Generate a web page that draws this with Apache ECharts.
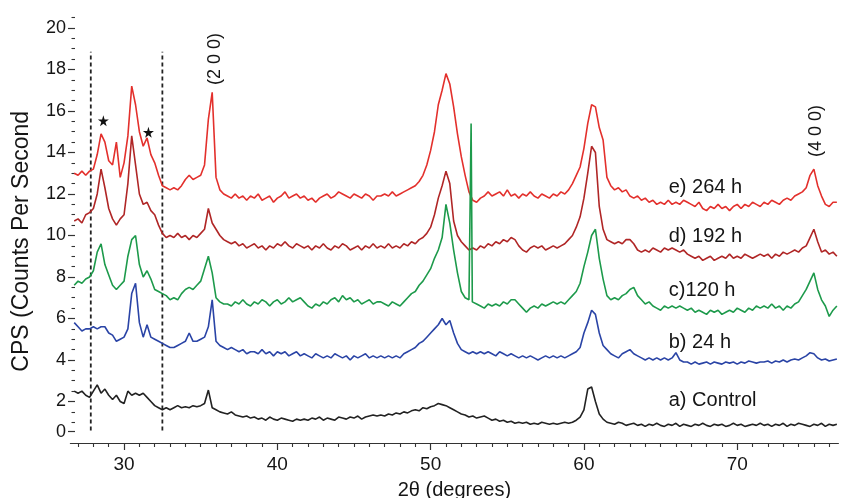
<!DOCTYPE html>
<html>
<head>
<meta charset="utf-8">
<script src="https://cdn.jsdelivr.net/npm/echarts@6/dist/echarts.min.js"></script>
<style>
  html, body { margin: 0; padding: 0; background: #fff; }
  #chart { width: 848px; height: 498px; }
</style>
</head>
<body>
<div id="chart"></div>
<script>
// 2-theta sample positions (degrees)
var twoTheta = [
  26.75, 27, 27.25, 27.5, 27.75, 28, 28.25, 28.5, 28.75, 29, 29.25, 29.5, 29.75, 30, 30.25, 30.5, 30.75, 31, 31.25, 31.5,
  31.75, 32, 32.25, 32.5, 32.75, 33, 33.25, 33.5, 33.75, 34, 34.25, 34.5, 34.75, 35, 35.25, 35.5, 35.75, 36, 36.25, 36.5,
  36.75, 37, 37.25, 37.5, 37.75, 38, 38.25, 38.5, 38.75, 39, 39.25, 39.5, 39.75, 40, 40.25, 40.5, 40.75, 41, 41.25, 41.5,
  41.75, 42, 42.25, 42.5, 42.75, 43, 43.25, 43.5, 43.75, 44, 44.25, 44.5, 44.75, 45, 45.25, 45.5, 45.75, 46, 46.25, 46.5,
  46.75, 47, 47.25, 47.5, 47.75, 48, 48.25, 48.5, 48.75, 49, 49.25, 49.5, 49.75, 50, 50.25, 50.5, 50.75, 51, 51.25, 51.5,
  51.75, 52, 52.25, 52.5, 52.75, 53, 53.25, 53.5, 53.75, 54, 54.25, 54.5, 54.75, 55, 55.25, 55.5, 55.75, 56, 56.25, 56.5,
  56.75, 57, 57.25, 57.5, 57.75, 58, 58.25, 58.5, 58.75, 59, 59.25, 59.5, 59.75, 60, 60.25, 60.5, 60.75, 61, 61.25, 61.5,
  61.75, 62, 62.25, 62.5, 62.75, 63, 63.25, 63.5, 63.75, 64, 64.25, 64.5, 64.75, 65, 65.25, 65.5, 65.75, 66, 66.25, 66.5,
  66.75, 67, 67.25, 67.5, 67.75, 68, 68.25, 68.5, 68.75, 69, 69.25, 69.5, 69.75, 70, 70.25, 70.5, 70.75, 71, 71.25, 71.5,
  71.75, 72, 72.25, 72.5, 72.75, 73, 73.25, 73.5, 73.75, 74, 74.25, 74.5, 74.75, 75, 75.25, 75.5, 75.75, 76, 76.25, 76.5
];

// e) 264 h
var cps264 = [
  13.0, 12.9, 13.1, 12.9, 13.1, 13.2, 13.9, 14.9, 14.5, 13.6, 13.4, 14.5, 12.8, 13.5, 14.8, 17.2, 16.3, 15.0, 14.3, 14.7,
  13.9, 13.5, 12.9, 12.4, 12.3, 12.2, 12.3, 12.2, 12.4, 12.7, 12.9, 12.7, 12.8, 12.9, 13.4, 15.6, 16.9, 12.8, 12.2, 12.0,
  11.9, 11.8, 12.0, 11.8, 11.9, 11.7, 11.9, 11.8, 12.0, 11.7, 11.8, 11.9, 11.6, 11.8, 11.9, 12.1, 11.8, 11.9, 12.0, 11.8,
  11.9, 11.7, 11.8, 11.6, 11.8, 11.9, 12.0, 11.8, 11.9, 12.1, 12.0, 11.9, 11.8, 12.0, 11.9, 11.8, 12.0, 11.9, 11.7, 11.9,
  11.9, 12.0, 11.9, 12.1, 11.9, 12.0, 12.1, 12.2, 12.3, 12.4, 12.6, 12.9, 13.4, 14.1, 15.0, 16.3, 17.0, 17.8, 17.3, 16.2,
  14.9, 13.8, 12.9, 12.1, 11.7, 11.6, 11.8, 11.9, 12.1, 11.9, 12.0, 12.1, 11.9, 12.2, 11.9, 12.0, 11.8, 12.0, 11.9, 12.1,
  11.9, 11.8, 12.0, 11.9, 11.8, 12.0, 11.9, 12.1, 12.0, 12.2, 12.5, 12.9, 13.3, 14.2, 15.4, 16.3, 16.2, 15.2, 14.6, 12.8,
  12.4, 12.2, 12.3, 12.1, 12.2, 11.9, 11.8, 11.9, 11.7, 11.8, 11.6, 11.7, 11.5, 11.6, 11.5, 11.7, 11.5, 11.6, 11.5, 11.7,
  11.6, 11.5, 11.4, 11.6, 11.3, 11.2, 11.4, 11.3, 11.5, 11.3, 11.4, 11.2, 11.4, 11.5, 11.3, 11.5, 11.4, 11.6, 11.5, 11.4,
  11.6, 11.5, 11.7, 11.6, 11.5, 11.7, 11.8, 11.7, 11.9, 12.0, 12.1, 12.3, 12.9, 13.2, 12.4, 11.9, 11.5, 11.4, 11.6, 11.6
];

// d) 192 h
var cps192 = [
  10.7, 10.8, 10.6, 11.0, 11.1, 11.3, 12.0, 13.2, 12.3, 11.3, 10.8, 10.5, 10.8, 11.0, 12.5, 14.8, 13.4, 12.0, 11.5, 11.6,
  11.2, 11.0, 10.5, 10.1, 9.9, 10.0, 9.9, 10.1, 9.9, 10.0, 9.8, 10.0, 9.9, 10.1, 10.3, 11.3, 10.6, 10.3, 10.0, 9.8,
  9.7, 9.6, 9.7, 9.5, 9.6, 9.4, 9.5, 9.6, 9.4, 9.5, 9.3, 9.5, 9.4, 9.6, 9.5, 9.7, 9.5, 9.4, 9.6, 9.5,
  9.4, 9.5, 9.3, 9.5, 9.4, 9.6, 9.4, 9.3, 9.5, 9.4, 9.6, 9.5, 9.3, 9.4, 9.5, 9.3, 9.5, 9.4, 9.6, 9.4,
  9.5, 9.4, 9.6, 9.4, 9.5, 9.4, 9.6, 9.5, 9.7, 9.6, 9.8, 9.9, 10.1, 10.4, 11.0, 11.8, 12.4, 13.1, 12.5, 10.7,
  10.0, 9.7, 9.5, 9.3, 9.4, 9.3, 9.5, 9.4, 9.6, 9.5, 9.7, 9.6, 9.8, 9.7, 9.9, 9.8, 9.5, 9.3, 9.2, 9.4,
  9.5, 9.4, 9.5, 9.3, 9.4, 9.5, 9.4, 9.5, 9.6, 9.8, 10.0, 10.4, 10.9, 11.8, 13.0, 14.3, 14.0, 11.4, 10.3, 9.8,
  9.7, 9.6, 9.7, 9.6, 9.8, 9.8, 9.6, 9.3, 9.2, 9.3, 9.2, 9.4, 9.3, 9.2, 9.4, 9.3, 9.4, 9.3, 9.2, 9.3,
  9.1, 9.0, 8.9, 9.0, 8.8, 8.9, 9.0, 8.8, 8.9, 9.0, 8.9, 9.1, 8.9, 9.0, 8.9, 9.1, 9.0, 8.9, 9.0, 9.1,
  9.0, 9.1, 8.9, 9.1, 9.0, 9.2, 9.1, 9.2, 9.3, 9.2, 9.4, 9.5, 9.9, 10.3, 9.7, 9.2, 9.3, 9.1, 9.2, 9.0
];

// c) 120 h
var cps120 = [
  7.6, 7.8, 7.7, 7.9, 8.0, 8.3, 9.2, 9.6, 8.6, 8.1, 7.6, 7.4, 7.6, 7.8, 9.0, 9.8, 10.0, 8.6, 8.0, 8.3,
  7.9, 7.4, 7.3, 7.2, 7.1, 6.9, 7.0, 6.9, 7.2, 7.4, 7.5, 7.4, 7.6, 7.8, 8.4, 9.0, 8.2, 7.0, 6.8, 6.7,
  6.7, 6.6, 6.8, 6.7, 6.9, 6.7, 6.6, 6.8, 6.7, 6.9, 6.8, 6.6, 6.8, 6.9, 6.7, 6.8, 7.0, 6.8, 6.9, 7.0,
  6.8, 6.6, 6.5, 6.7, 6.6, 6.8, 6.7, 6.9, 7.0, 6.8, 7.1, 6.9, 7.0, 6.8, 6.9, 6.7, 6.8, 6.9, 6.7, 6.8,
  6.8, 6.7, 6.6, 6.8, 6.7, 6.6, 6.8, 7.0, 7.2, 7.3, 7.6, 7.8, 8.1, 8.4, 8.9, 9.3, 9.9, 11.5, 10.6, 9.3,
  8.2, 7.3, 7.0, 6.9, 6.8, 6.7, 6.6, 6.5, 6.7, 6.6, 6.7, 6.6, 6.8, 6.7, 6.9, 6.9, 6.7, 6.5, 6.3, 6.5,
  6.6, 6.5, 6.7, 6.6, 6.7, 6.8, 6.7, 6.8, 6.7, 6.9, 7.1, 7.3, 7.7, 8.5, 9.2, 10.0, 10.3, 8.9, 7.9, 7.1,
  6.9, 7.0, 6.9, 7.1, 7.2, 7.4, 7.5, 7.1, 6.9, 6.7, 6.8, 6.6, 6.5, 6.4, 6.6, 6.5, 6.6, 6.5, 6.6, 6.5,
  6.4, 6.5, 6.3, 6.4, 6.3, 6.2, 6.4, 6.3, 6.4, 6.2, 6.3, 6.4, 6.3, 6.5, 6.4, 6.3, 6.5, 6.4, 6.6, 6.5,
  6.6, 6.5, 6.7, 6.5, 6.6, 6.4, 6.6, 6.5, 6.7, 6.8, 7.1, 7.4, 7.8, 8.2, 7.4, 6.9, 6.6, 6.1, 6.4, 6.6
];
// narrow spike in c) near 52.7 degrees
var spike120 = [[52.6, 6.9], [52.64, 15.4], [52.69, 15.4], [52.72, 6.8]];

// b) 24 h
var cps24 = [
  5.8, 5.6, 5.4, 5.5, 5.5, 5.6, 5.5, 5.6, 5.6, 5.3, 5.2, 4.9, 5.0, 5.1, 5.5, 7.2, 7.7, 5.8, 5.1, 5.7,
  5.1, 5.0, 4.9, 4.8, 4.7, 4.6, 4.6, 4.7, 4.8, 4.9, 5.3, 4.9, 4.9, 5.0, 5.1, 5.6, 6.9, 4.9, 4.7, 4.6,
  4.5, 4.6, 4.5, 4.4, 4.5, 4.3, 4.4, 4.4, 4.3, 4.5, 4.3, 4.4, 4.2, 4.4, 4.3, 4.4, 4.2, 4.3, 4.4, 4.2,
  4.3, 4.2, 4.1, 4.3, 4.2, 4.1, 4.2, 4.1, 4.3, 4.2, 4.1, 4.2, 4.0, 4.2, 4.1, 4.2, 4.3, 4.1, 4.2, 4.1,
  4.2, 4.1, 4.2, 4.1, 4.2, 4.1, 4.3, 4.4, 4.5, 4.6, 4.8, 4.9, 5.1, 5.3, 5.5, 5.7, 6.0, 5.7, 5.9, 5.3,
  4.8, 4.5, 4.4, 4.3, 4.4, 4.3, 4.4, 4.3, 4.4, 4.3, 4.2, 4.4, 4.3, 4.2, 4.3, 4.2, 4.1, 4.2, 4.1, 4.2,
  4.1, 4.0, 4.1, 4.2, 4.1, 4.2, 4.1, 4.2, 4.1, 4.2, 4.3, 4.4, 4.6, 5.3, 5.8, 6.4, 6.2, 5.3, 4.7, 4.5,
  4.3, 4.2, 4.1, 4.3, 4.4, 4.5, 4.3, 4.2, 4.1, 4.0, 4.1, 4.0, 4.1, 4.0, 4.1, 4.0, 4.1, 4.35, 4.0, 3.9,
  3.9, 3.8, 3.9, 3.8, 3.85, 3.9, 3.8, 3.9, 3.85, 3.8, 3.9, 3.85, 3.9, 3.8, 3.9, 3.85, 3.95, 3.9, 3.85, 3.9,
  3.9, 3.95, 3.85, 3.95, 3.9, 4.0, 3.9, 4.0, 4.05, 4.0, 4.1, 4.2, 4.35, 4.3, 4.1, 4.0, 4.05, 3.95, 4.0, 4.05
];

// a) Control
var cpsControl = [
  2.5, 2.4, 2.5, 2.3, 2.2, 2.5, 2.8, 2.4, 2.6, 2.3, 2.1, 2.3, 2.0, 1.9, 2.5, 2.3, 2.4, 2.3, 2.4, 2.2,
  2.0, 1.8, 1.7, 1.6, 1.7, 1.6, 1.7, 1.8, 1.7, 1.75, 1.7, 1.8, 1.75, 1.8, 1.9, 2.55, 1.7, 1.6, 1.5, 1.45,
  1.4, 1.5, 1.35, 1.3, 1.25, 1.3, 1.2, 1.25, 1.15, 1.2, 1.1, 1.25, 1.15, 1.1, 1.2, 1.15, 1.1, 1.05, 1.15, 1.1,
  1.15, 1.1, 1.2, 1.15, 1.25, 1.1, 1.2, 1.15, 1.1, 1.25, 1.2, 1.15, 1.25, 1.2, 1.3, 1.15, 1.25, 1.3, 1.35, 1.3,
  1.35, 1.3, 1.4, 1.35, 1.45, 1.4, 1.5, 1.45, 1.55, 1.6, 1.55, 1.7, 1.65, 1.75, 1.8, 1.9, 1.85, 1.8, 1.7, 1.6,
  1.5, 1.4, 1.35, 1.25, 1.3, 1.2, 1.25, 1.3, 1.2, 1.1, 1.15, 1.05, 1.1, 1.0, 1.05, 0.95, 1.0, 0.95, 1.0, 0.9,
  0.95, 0.9, 1.0, 0.95, 0.9, 0.95, 0.9, 0.95, 1.0, 0.95, 1.0, 1.1, 1.25, 1.6, 2.6, 2.7, 2.0, 1.4, 1.15, 1.0,
  0.95, 0.9, 1.0, 0.95, 0.85, 0.9, 0.95, 0.85, 0.9, 0.8, 0.9, 0.85, 0.95, 0.85, 0.8, 0.9, 0.85, 0.95, 0.8, 0.9,
  0.85, 0.8, 0.9, 0.85, 0.95, 0.85, 0.8, 0.9, 0.85, 0.9, 0.8, 0.85, 0.95, 0.85, 0.9, 0.8, 0.85, 0.9, 0.85, 0.95,
  0.85, 0.9, 0.8, 0.9, 0.85, 0.95, 0.8, 0.9, 0.85, 0.95, 0.9, 0.85, 0.8, 0.9, 0.85, 0.95, 0.8, 0.9, 0.85, 0.9
];

var curveNames = ['e) 264 h', 'd) 192 h', 'c)120 h', 'b) 24 h', 'a) Control'];
var curveColors = ['#e3302c', '#b02626', '#1d9a4b', '#2a44a6', '#222222'];
var curveLabelX = [65.5, 65.5, 65.5, 65.5, 65.5];
var curveLabelY = [12.3, 9.93, 7.37, 4.82, 2.07];

var planeNames = ['(2 0 0)', '(4 0 0)'];
var planeX = [35.94, 75.14];
var planeY = [18.5, 15.04];

var starX = [28.65, 31.59];
var starY = [15.53, 14.97];

var guideX = [27.83, 32.5];
var guideY = [0.6, 18.85];

var xTickMajor = [30, 40, 50, 60, 70];
var xTickMinor = [27, 28, 29, 31, 32, 33, 34, 35, 36, 37, 38, 39, 41, 42, 43, 44, 45, 46, 47, 48, 49,
  51, 52, 53, 54, 55, 56, 57, 58, 59, 61, 62, 63, 64, 65, 66, 67, 68, 69, 71, 72, 73, 74, 75, 76];
var yTickValues = [0.55, 2, 4, 6, 8, 10, 12, 14, 16, 18, 20];
var yTickLabels = ['0', '2', '4', '6', '8', '10', '12', '14', '16', '18', '20'];
var yTickMinor = [1, 1.5, 2.5, 3, 3.5, 4.5, 5, 5.5, 6.5, 7, 7.5, 8.5, 9, 9.5, 10.5, 11, 11.5,
  12.5, 13, 13.5, 14.5, 15, 15.5, 16.5, 17, 17.5, 18.5, 19, 19.5, 20.5];

var font = '"Liberation Sans", Arial, sans-serif';
var textColor = '#151515';
var axisColor = '#333';

function pairs(xs, ys) {
  return xs.map(function(x, i) { return [x, ys[i]]; });
}

var curves = [cps264, cps192, cps120, cps24, cpsControl];
var series = curves.map(function(vals, i) {
  var data = pairs(twoTheta, vals);
  if (vals === cps120) {
    var at = 0;
    while (data[at][0] < spike120[0][0]) at++;
    Array.prototype.splice.apply(data, [at, 0].concat(spike120));
  }
  return {
    name: curveNames[i],
    type: 'line',
    data: data,
    showSymbol: false,
    symbol: 'none',
    lineStyle: { color: curveColors[i], width: 1.6 },
    z: 3
  };
});

guideX.forEach(function(gx) {
  series.push({
    type: 'line',
    data: [[gx, guideY[0]], [gx, guideY[1]]],
    symbol: 'none',
    lineStyle: { color: '#222', width: 1.8, type: [4, 3] },
    z: 2
  });
});

// text annotations anchored at data coordinates
series.push({
  type: 'scatter',
  data: curveNames.map(function(n, i) { return { name: n, value: [curveLabelX[i], curveLabelY[i]] }; }),
  symbolSize: 1,
  itemStyle: { color: 'rgba(0,0,0,0)', opacity: 1 },
  label: {
    show: true, position: 'right', distance: 0,
    formatter: '{b}', color: textColor, fontSize: 20, fontFamily: font
  },
  z: 5
});

series.push({
  type: 'scatter',
  data: planeNames.map(function(n, i) { return { name: n, value: [planeX[i], planeY[i]] }; }),
  symbolSize: 1,
  itemStyle: { color: 'rgba(0,0,0,0)', opacity: 1 },
  label: {
    show: true, position: 'inside', rotate: 90,
    formatter: '{b}', color: textColor, fontSize: 18, fontFamily: font,
    textBorderWidth: 0
  },
  z: 5
});

series.push({
  type: 'scatter',
  data: pairs(starX, starY),
  symbol: 'path://M50,0 L61,35 L98,35 L68,57 L79,91 L50,70 L21,91 L32,57 L2,35 L39,35 Z',
  symbolSize: 11,
  itemStyle: { color: '#111', opacity: 1 },
  z: 5
});

var chart = echarts.init(document.getElementById('chart'), null, { renderer: 'canvas' });

var xRange = { min: 26.5, max: 76.6 };
var yRange = { min: 0, max: 20.5 };

chart.setOption({
  animation: false,
  backgroundColor: '#fff',
  grid: { left: 70.4, right: 9.6, top: 17.6, bottom: 55, containLabel: false, outerBoundsMode: 'none' },
  xAxis: [
    {
      type: 'value', min: xRange.min, max: xRange.max, position: 'bottom',
      axisLine: { onZero: false, lineStyle: { color: axisColor, width: 1.2 } },
      axisTick: { customValues: xTickMajor, length: 7, lineStyle: { color: axisColor, width: 1.2 } },
      axisLabel: { customValues: xTickMajor, color: textColor, fontSize: 19, fontFamily: font, margin: 12 },
      splitLine: { show: false },
      name: '2θ (degrees)', nameLocation: 'middle', nameGap: 37,
      nameTextStyle: { color: textColor, fontSize: 20, fontFamily: font }
    },
    {
      type: 'value', min: xRange.min, max: xRange.max, position: 'bottom',
      axisLine: { show: false, onZero: false },
      axisTick: { customValues: xTickMinor, length: 4, lineStyle: { color: axisColor, width: 1.1 } },
      axisLabel: { show: false },
      splitLine: { show: false }
    }
  ],
  yAxis: [
    {
      type: 'value', min: yRange.min, max: yRange.max, position: 'left', offset: -4.6,
      axisLine: { show: false, onZero: false },
      axisTick: { show: true, customValues: yTickValues, length: 7, lineStyle: { color: axisColor, width: 1.2 } },
      axisLabel: {
        customValues: yTickValues, color: textColor, fontSize: 18, fontFamily: font, margin: 9,
        formatter: function(v) {
          var k = yTickValues.indexOf(v);
          return k >= 0 ? yTickLabels[k] : '';
        }
      },
      splitLine: { show: false },
      name: 'CPS (Counts Per Second', nameLocation: 'middle', nameGap: 42,
      nameTextStyle: { color: textColor, fontSize: 23, fontFamily: font, padding: [0, 22, 0, 0] }
    },
    {
      type: 'value', min: yRange.min, max: yRange.max, position: 'left', offset: -4.6,
      axisLine: { show: false, onZero: false },
      axisTick: { show: true, customValues: yTickMinor, length: 3.5, lineStyle: { color: axisColor, width: 1.1 } },
      axisLabel: { show: false },
      splitLine: { show: false }
    }
  ],
  series: series
});
</script>
</body>
</html>
